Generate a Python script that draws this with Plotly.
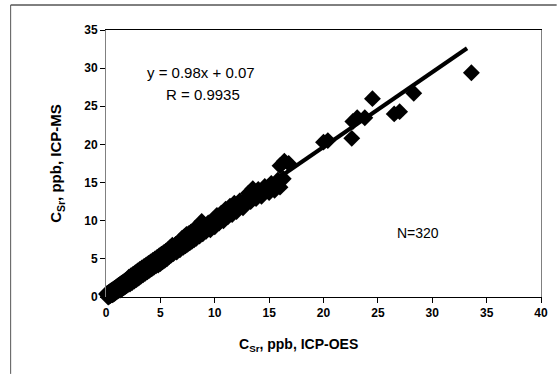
import plotly.graph_objects as go

# ICP-OES (x) vs ICP-MS (y) Sr concentrations, ppb
x_oes = [
    0.05, 0.1, 0.15, 0.2, 0.25, 0.3, 0.35, 0.4, 0.45, 0.5, 0.55, 0.6, 0.65, 0.7, 0.75, 0.8, 0.85, 0.9, 0.95, 1.0,
    1.05, 1.1, 1.15, 1.2, 1.25, 1.3, 1.35, 1.4, 1.45, 1.5, 1.55, 1.6, 1.65, 1.7, 1.75, 1.8, 1.85, 1.9, 1.95, 2.0,
    2.1, 2.2, 2.3, 2.4, 2.5, 2.6, 2.7, 2.8, 2.9, 3.0, 3.1, 3.2, 3.3, 3.4, 3.5, 3.6, 3.7, 3.8, 3.9, 4.0,
    4.1, 4.2, 4.3, 4.4, 4.5, 4.6, 4.7, 4.8, 4.9, 5.0, 5.1, 5.2, 5.3, 5.4, 5.5, 5.6, 5.7, 5.8, 5.9, 6.0,
    6.1, 6.2, 6.4, 6.5, 6.7, 6.8, 7.0, 7.1, 7.2, 7.3, 7.4, 7.5, 7.6, 7.7, 7.8, 7.9, 8.0, 8.1,
    8.2, 8.3, 8.5, 8.6, 8.8, 8.9, 9.0, 9.2, 9.4, 9.6, 9.8, 10.0,
    10.2, 10.4, 10.6, 10.8, 11.0, 11.2, 11.4, 11.6, 11.8, 12.0, 12.3, 12.6, 12.9,
    13.1, 13.3, 13.5, 13.8, 14.0, 14.3, 14.6, 15.0, 15.2, 15.5, 15.8, 16.0, 16.3,
    16.0, 16.4, 16.8, 20.0, 20.4, 22.6, 22.7, 23.1, 23.8, 24.5, 26.5, 27.0, 28.3, 33.6,
]
y_ms = [
    0.4, -0.2, 0.5, 0.0, 0.6, 0.1, 0.7, 0.2, 0.8, 0.3, 0.9, 0.3, 1.0, 0.4, 1.1, 0.5, 1.2, 0.6, 1.3, 0.7,
    1.4, 0.8, 1.5, 0.9, 1.6, 0.9, 1.7, 1.0, 1.8, 1.1, 1.9, 1.2, 2.0, 1.3, 2.1, 1.4, 2.2, 1.5, 2.3, 1.6,
    2.6, 1.7, 2.8, 1.9, 3.0, 2.1, 3.2, 2.3, 3.4, 2.5, 3.6, 2.7, 3.8, 2.9, 4.0, 3.1, 4.2, 3.3, 4.4, 3.5,
    4.6, 3.7, 4.8, 3.9, 5.0, 4.1, 5.2, 4.2, 5.4, 4.4, 5.6, 4.6, 5.8, 4.8, 6.0, 5.0, 6.2, 5.3, 6.5, 5.5,
    6.8, 5.7, 6.9, 5.9, 7.2, 6.2, 7.7, 6.5, 7.9, 6.7, 8.2, 6.9, 8.3, 7.1, 8.5, 7.3, 8.7, 7.5,
    9.0, 7.7, 9.3, 8.0, 9.9, 8.3, 9.5, 8.6, 9.7, 8.8, 10.0, 9.2,
    10.7, 9.7, 11.0, 10.0, 11.5, 10.5, 11.9, 10.8, 12.3, 11.2, 12.6, 11.7, 12.9,
    13.6, 12.5, 14.2, 12.9, 14.1, 13.2, 14.5, 13.7, 14.9, 14.0, 15.3, 14.4, 15.5,
    17.2, 17.8, 17.5, 20.3, 20.5, 20.8, 23.0, 23.5, 23.5, 26.0, 24.0, 24.3, 26.7, 29.4,
]

# Linear fit shown on the chart
fit_slope = 0.98
fit_intercept = 0.07
fit_x_range = [0.0, 33.2]

x_ticks = [0, 5, 10, 15, 20, 25, 30, 35, 40]
y_ticks = [0, 5, 10, 15, 20, 25, 30, 35]

FONT = "Liberation Sans, Arial, sans-serif"

fig = go.Figure()
fig.add_trace(go.Scatter(
    x=x_oes, y=y_ms, mode="markers", cliponaxis=False,
    marker=dict(symbol="diamond", size=13, color="black", line=dict(width=0)),
    showlegend=False, hoverinfo="x+y",
))
fig.add_trace(go.Scatter(
    x=fit_x_range,
    y=[fit_slope * v + fit_intercept for v in fit_x_range],
    mode="lines", line=dict(color="black", width=4),
    showlegend=False, hoverinfo="skip",
))

fig.update_layout(
    width=560, height=374,
    margin=dict(l=106, r=16, t=30, b=77),
    paper_bgcolor="white", plot_bgcolor="white",
    font=dict(family=FONT, color="black"),
    xaxis=dict(
        range=[0, 40], tickvals=x_ticks, showgrid=False, zeroline=False,
        showline=True, linecolor="black", linewidth=1, mirror=True,
        ticks="outside", ticklen=5, tickcolor="black",
        tickfont=dict(size=12, family=FONT, weight="bold"),
    ),
    yaxis=dict(
        range=[0, 35], tickvals=y_ticks, showgrid=False, zeroline=False,
        showline=True, linecolor="#808080", linewidth=1, mirror=True,
        ticks="outside", ticklen=5, tickcolor="black",
        tickfont=dict(size=12, family=FONT, weight="bold"),
        title=dict(text="C<sub>Sr</sub>, ppb, ICP-MS",
                   font=dict(size=15, family=FONT, weight="bold"), standoff=18),
    ),
    annotations=[
        dict(x=8.76, y=29.4, xref="x", yref="y", text="y = 0.98x + 0.07",
             showarrow=False, font=dict(size=15, family=FONT)),
        dict(x=8.9, y=26.5, xref="x", yref="y", text="R = 0.9935",
             showarrow=False, font=dict(size=15, family=FONT)),
        dict(x=28.7, y=8.4, xref="x", yref="y", text="N=320",
             showarrow=False, font=dict(size=14, family=FONT)),
        dict(x=0.443, y=-0.18, xref="paper", yref="paper", text="C<sub>Sr</sub>, ppb, ICP-OES",
             showarrow=False, xanchor="center", yanchor="middle",
             font=dict(size=14, family=FONT, weight="bold")),
    ],
    shapes=[
        dict(type="line", xref="paper", yref="paper", x0=-0.2192, x1=1.036, y0=1.0936, y1=1.0936,
             line=dict(color="black", width=1)),
        dict(type="line", xref="paper", yref="paper", x0=-0.2192, x1=-0.2192, y0=1.0936, y1=-0.288,
             line=dict(color="#555555", width=1)),
    ],
)

fig.write_html(
    "out.html",
    config={"displayModeBar": False},
    post_script="document.body.style.margin='0';document.body.style.overflow='hidden';",
)
